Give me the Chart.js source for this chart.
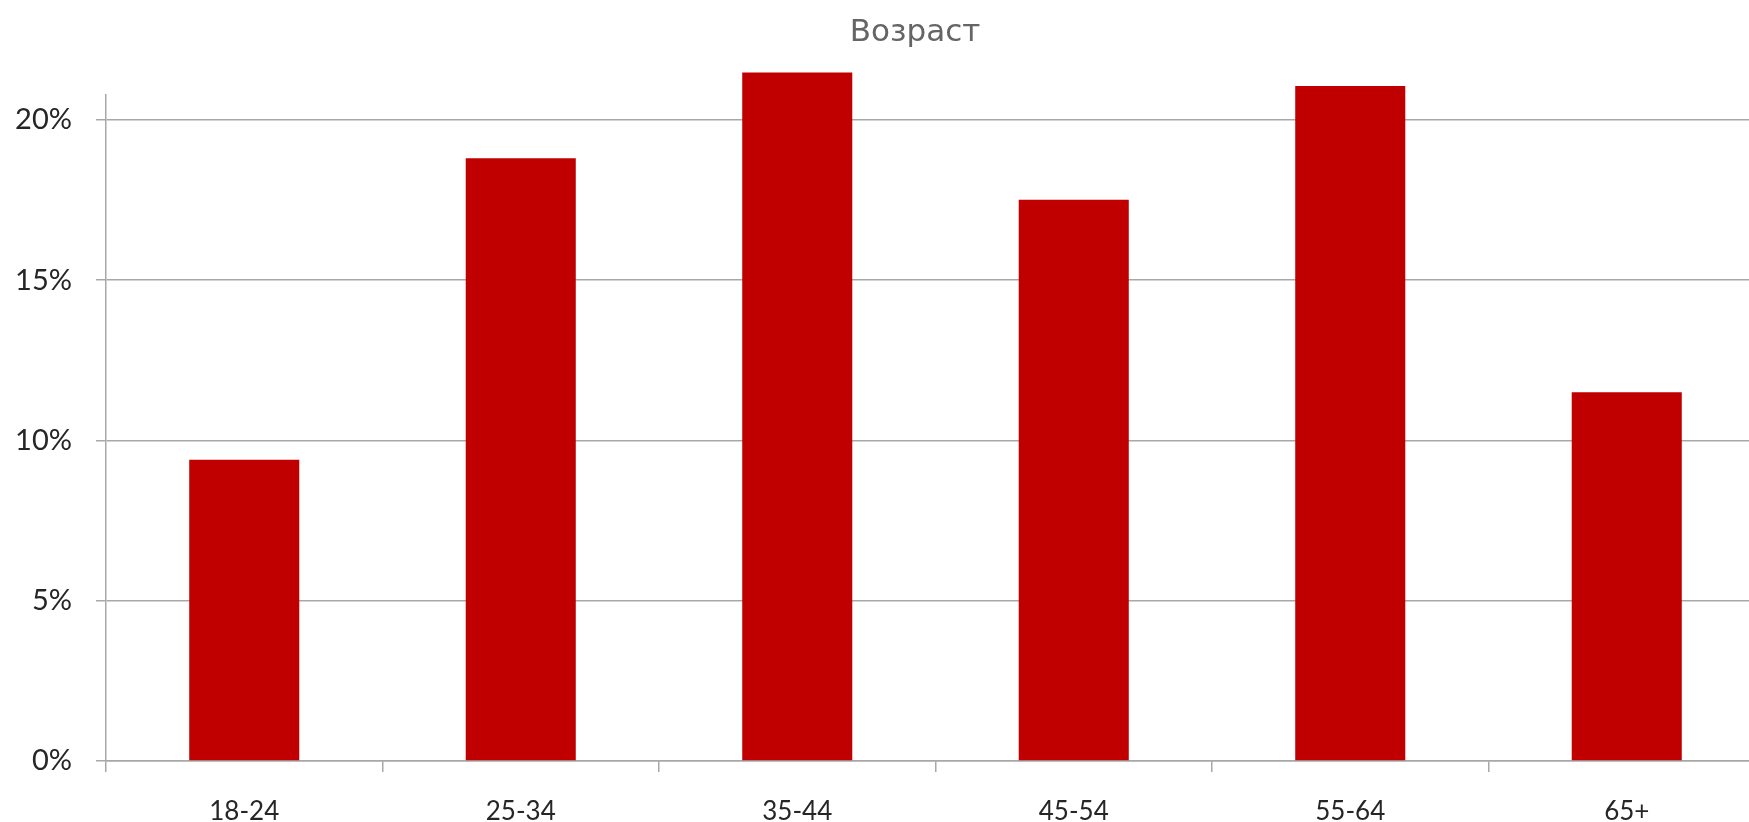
<!DOCTYPE html>
<html>
<head>
<meta charset="utf-8">
<script src="https://cdn.jsdelivr.net/npm/chart.js@4.4.1/dist/chart.umd.min.js"></script>
<style>
    html, body { margin: 0; padding: 0; background: #fff; overflow: hidden; }
    #wrap { width: 1830px; height: 822px; }
</style>
</head>
<body>
<div id="wrap"><canvas id="ageChart"></canvas></div>
<script>
const ageGroups = ['18-24', '25-34', '35-44', '45-54', '55-64', '65+'];
const shares = [9.4, 18.8, 21.48, 17.51, 21.06, 11.5];
const yTicks = [0, 5, 10, 15, 20];

const gridGrey = '#a8a8a8';

const data = {
    labels: ageGroups,
    datasets: [{
        label: 'Возраст',
        data: shares,
        backgroundColor: '#c00000',
        borderWidth: 0,
        categoryPercentage: 1,
        barPercentage: 0.398,
        clip: false
    }]
};

const config = {
    type: 'bar',
    data: data,
    options: {
        responsive: true,
        maintainAspectRatio: false,
        animation: false,
        devicePixelRatio: 1,
        layout: { padding: 0 },
        plugins: {
            legend: { display: false },
            tooltip: { enabled: false },
            title: {
                display: true,
                text: 'Возраст',
                color: '#656565',
                font: { family: 'DejaVu Sans', size: 31, weight: 'normal' },
                padding: { top: 14, bottom: 44 }
            }
        },
        scales: {
            x: {
                grid: {
                    drawOnChartArea: false,
                    drawTicks: true,
                    tickLength: 11,
                    color: gridGrey,
                    lineWidth: 1.5
                },
                border: { display: true, color: gridGrey, width: 1.5 },
                ticks: {
                    color: '#262626',
                    padding: 24,
                    font: { family: 'Lato', size: 26 }
                },
                afterFit: function(scale) { scale.height = 61; }
            },
            y: {
                min: 0,
                max: 20.77,
                grid: {
                    color: gridGrey,
                    lineWidth: 1.5,
                    tickLength: 10
                },
                border: { display: true, color: gridGrey, width: 1.5 },
                ticks: {
                    color: '#262626',
                    padding: 24,
                    font: { family: 'Lato', size: 29 },
                    callback: function(v) { return v + '%'; }
                },
                afterBuildTicks: function(scale) {
                    scale.ticks = yTicks.map(function(v) { return { value: v }; });
                },
                afterFit: function(scale) { scale.width = 106; }
            },
            // empty spacer on the right, only there to end the plot past the window edge
            spacer: {
                position: 'right',
                grid: { display: false },
                border: { display: false },
                ticks: { display: false },
                afterFit: function(scale) { scale.width = 65; }
            }
        }
    }
};

const ageChart = new Chart(
    document.getElementById('ageChart'),
    config
);
</script>
</body>
</html>
